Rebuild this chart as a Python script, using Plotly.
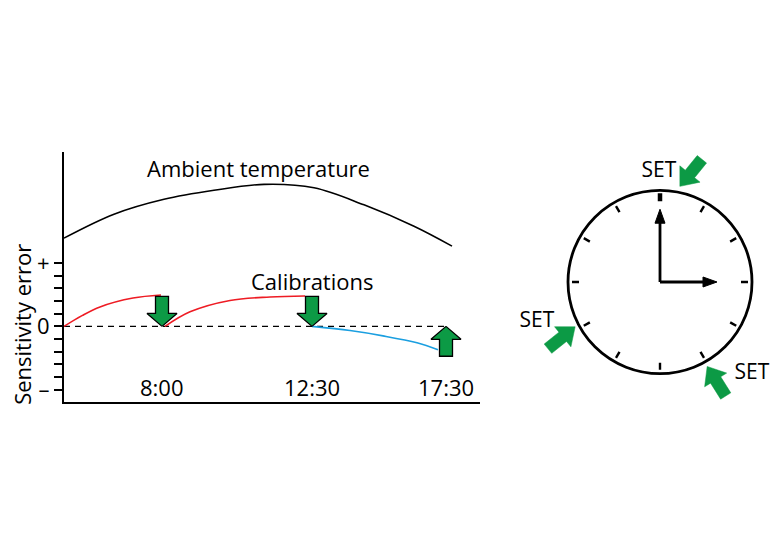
import numpy as np
import plotly.graph_objects as go

# ---------------- data ----------------
time_labels = ["8:00", "12:30", "17:30"]
calib_pos = [98, 248, 382]            # schematic time position of each calibration
calib_dir = [-1, -1, 1]               # -1 = arrow pointing down, 1 = up

ambient_x = [0, 50, 100, 150, 200, 250, 300, 350, 388]
ambient_y = [6.97, 8.86, 10.04, 10.75, 11.22, 10.95, 9.60, 7.91, 6.34]

drift1_x = [0, 18, 36, 69, 97]
drift1_y = [0, 0.85, 1.54, 2.24, 2.48]
drift2_x = [101, 126, 166, 206, 241]
drift2_y = [0, 1.15, 2.05, 2.32, 2.40]
drift3_x = [248, 286, 319, 353, 374]
drift3_y = [0, -0.33, -0.75, -1.30, -1.85]

zero_x = [0, 383]
zero_y = [0, 0]

ytick_vals = list(range(-5, 6))
ytick_text = ["–", "", "", "", "", "0", "", "", "", "", "+"]

# clock
clock_hours = list(range(12))
clock_radius = 92
minute_hand = (0, 73)    # (hour position, length)
hour_hand = (3, 57)
set_tip_hour = [0.39, 8.07, 5.03]
set_tip_r = [98, 96, 97]
set_heading = [231, 39, 122]           # direction the SET arrow points (deg)
set_label_x = [-1, -123, 92]
set_label_y = [110.5, -39.5, -92]

GREEN = "#0c9a45"
FONT = "Open Sans"
FS = 22

# ------------- helpers -------------
def block_arrow(tx, ty, heading_deg, L, hl, hw, sw, sx=1.0, sy=1.0):
    a = np.radians(heading_deg)
    d = np.array([np.cos(a), np.sin(a)])
    n = np.array([-d[1], d[0]])
    T = np.array([0.0, 0.0])
    pts = [T,
           T - d * hl + n * hw / 2,
           T - d * hl + n * sw / 2,
           T - d * L + n * sw / 2,
           T - d * L - n * sw / 2,
           T - d * hl - n * sw / 2,
           T - d * hl - n * hw / 2,
           T]
    xs = [tx + p[0] * sx for p in pts]
    ys = [ty + p[1] * sy for p in pts]
    return xs, ys

fig = go.Figure()

# --- left chart ---
Y_PX = 12.7  # px per sensitivity unit (for arrow drawing only)

fig.add_trace(go.Scatter(x=ambient_x, y=ambient_y, mode="lines",
                         line=dict(color="black", width=1.6, shape="spline", smoothing=1.0),
                         xaxis="x", yaxis="y", hoverinfo="skip"))
fig.add_trace(go.Scatter(x=zero_x, y=zero_y, mode="lines",
                         line=dict(color="black", width=1.4, dash="6px,5px"),
                         xaxis="x", yaxis="y", hoverinfo="skip"))
for dx, dy, col in [(drift1_x, drift1_y, "#ee1c24"), (drift2_x, drift2_y, "#ee1c24"),
                    (drift3_x, drift3_y, "#1b9fe0")]:
    fig.add_trace(go.Scatter(x=dx, y=dy, mode="lines",
                             line=dict(color=col, width=1.6, shape="spline", smoothing=1.0),
                             xaxis="x", yaxis="y", hoverinfo="skip"))

for cx, cd in zip(calib_pos, calib_dir):
    heading = 90 if cd > 0 else 270
    xs, ys = block_arrow(cx, 0, heading, 30, 13, 30, 13, sx=1.0, sy=1.0 / Y_PX)
    fig.add_trace(go.Scatter(x=xs, y=ys, mode="lines", fill="toself", fillcolor=GREEN,
                             line=dict(color="black", width=1.3),
                             xaxis="x", yaxis="y", hoverinfo="skip"))

# --- clock ---
tick_x, tick_y = [], []
for h in clock_hours[1:]:
    t = np.radians(h * 30)
    for r in (81, 88):
        tick_x.append(r * np.sin(t)); tick_y.append(r * np.cos(t))
    tick_x.append(None); tick_y.append(None)
fig.add_trace(go.Scatter(x=tick_x, y=tick_y, mode="lines",
                         line=dict(color="black", width=2.4),
                         xaxis="x2", yaxis="y2", hoverinfo="skip"))
fig.add_trace(go.Scatter(x=[0, 0], y=[81, 89], mode="lines",
                         line=dict(color="black", width=4.5),
                         xaxis="x2", yaxis="y2", hoverinfo="skip"))

for hh, ln in (minute_hand, hour_hand):
    t = np.radians(hh * 30)
    ux, uy = np.sin(t), np.cos(t)
    head = 14
    fig.add_trace(go.Scatter(x=[0, (ln - head + 1) * ux], y=[0, (ln - head + 1) * uy],
                             mode="lines", line=dict(color="black", width=2.8),
                             xaxis="x2", yaxis="y2", hoverinfo="skip"))
    tipx, tipy = ln * ux, ln * uy
    px, py = -uy, ux
    bx, by = tipx - head * ux, tipy - head * uy
    fig.add_trace(go.Scatter(x=[tipx, bx + 5 * px, bx - 5 * px, tipx],
                             y=[tipy, by + 5 * py, by - 5 * py, tipy],
                             mode="lines", fill="toself", fillcolor="black",
                             line=dict(color="black", width=1),
                             xaxis="x2", yaxis="y2", hoverinfo="skip"))

for h, r, hd in zip(set_tip_hour, set_tip_r, set_heading):
    t = np.radians(h * 30)
    xs, ys = block_arrow(r * np.sin(t), r * np.cos(t), hd, 35, 16, 26, 12)
    fig.add_trace(go.Scatter(x=xs, y=ys, mode="lines", fill="toself", fillcolor=GREEN,
                             line=dict(color=GREEN, width=0.5),
                             xaxis="x2", yaxis="y2", hoverinfo="skip"))

fig.add_trace(go.Scatter(x=set_label_x, y=set_label_y, mode="text", text=["SET"] * 3,
                         textfont=dict(family=FONT, size=21, color="black"),
                         textposition="middle center",
                         xaxis="x2", yaxis="y2", hoverinfo="skip"))

fig.add_shape(type="circle", xref="x2", yref="y2",
              x0=-clock_radius, y0=-clock_radius, x1=clock_radius, y1=clock_radius,
              line=dict(color="black", width=2.8))

# --- annotations ---
ann = []
for cx, lab in zip(calib_pos, time_labels):
    ann.append(dict(x=cx, y=-4.76, xref="x", yref="y", text=lab, showarrow=False,
                    xanchor="center", yanchor="middle",
                    font=dict(family=FONT, size=FS, color="black")))
ann.append(dict(x=194, y=12.54, xref="x", yref="y", text="Ambient temperature",
                showarrow=False, xanchor="center", yanchor="middle",
                font=dict(family=FONT, size=FS, color="black")))
ann.append(dict(x=248, y=3.58, xref="x", yref="y", text="Calibrations",
                showarrow=False, xanchor="center", yanchor="middle",
                font=dict(family=FONT, size=FS, color="black")))
ann.append(dict(x=22 / 780, y=1 - 326 / 560, xref="paper", yref="paper",
                text="Sensitivity error", textangle=-90, showarrow=False,
                xanchor="center", yanchor="middle",
                font=dict(family=FONT, size=FS, color="black")))

fig.update_layout(
    width=780, height=560,
    margin=dict(l=0, r=0, t=0, b=0),
    paper_bgcolor="white", plot_bgcolor="white",
    showlegend=False,
    annotations=ann,
    xaxis=dict(domain=[64 / 780, 480 / 780], range=[0, 416], showline=True,
               linecolor="black", linewidth=2, showticklabels=False, ticks="",
               showgrid=False, zeroline=False, fixedrange=True),
    yaxis=dict(domain=[1 - 403 / 560, 1 - 153 / 560], range=[-5.94, 13.74],
               showline=True, linecolor="black", linewidth=2,
               tickmode="array", tickvals=ytick_vals, ticktext=ytick_text,
               ticks="outside", ticklen=8, tickwidth=2, tickcolor="black",
               tickfont=dict(family=FONT, size=FS, color="black"),
               showgrid=False, zeroline=False, fixedrange=True),
    xaxis2=dict(domain=[500 / 780, 1.0], range=[-160, 120], visible=False,
                fixedrange=True, anchor="y2"),
    yaxis2=dict(domain=[1 - 413 / 560, 1 - 153 / 560], range=[-130, 130],
                visible=False, fixedrange=True, anchor="x2"),
)

fig.write_html("out.html", config={"displayModeBar": False},
               post_script="document.body.style.margin='0px';")
